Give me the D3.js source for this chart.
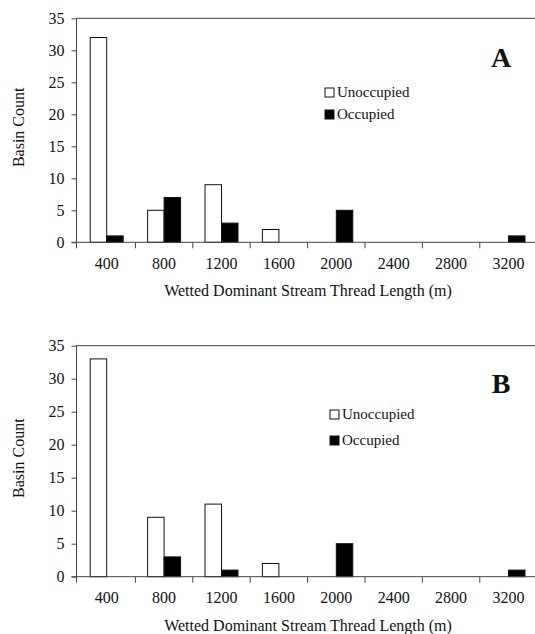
<!DOCTYPE html>
<html>
<head>
<meta charset="utf-8">
<script src="https://cdn.jsdelivr.net/npm/d3@7"></script>
<style>
  html, body { margin: 0; padding: 0; background: #fff; }
  svg { display: block; }
  text { font-family: "Liberation Serif", "Times New Roman", "DejaVu Serif", serif; fill: #111; }
</style>
</head>
<body>
<svg id="chart" width="535" height="634"></svg>
<script>
const categories = ["400", "800", "1200", "1600", "2000", "2400", "2800", "3200"];
const seriesNames = ["Unoccupied", "Occupied"];
const unoccupiedA = [32, 5, 9, 2, 0, 0, 0, 0];
const occupiedA   = [1, 7, 3, 0, 5, 0, 0, 1];
const unoccupiedB = [33, 9, 11, 2, 0, 0, 0, 0];
const occupiedB   = [0, 3, 1, 0, 5, 0, 0, 1];
const yTicks = [0, 5, 10, 15, 20, 25, 30, 35];
const xTitle = "Wetted Dominant Stream Thread Length (m)";
const yTitle = "Basin Count";

const svg = d3.select("#chart");
const FONT = "'Liberation Serif', 'Times New Roman', 'DejaVu Serif', serif";

const panels = [
  { label: "A", unocc: unoccupiedA, occ: occupiedA, top: 18.3, bottom: 242.3,
    legendX: 325, legendY: [88, 110], letterY: 67 },
  { label: "B", unocc: unoccupiedB, occ: occupiedB, top: 345.7, bottom: 576.7,
    legendX: 330, legendY: [410, 436], letterY: 393 }
];

const axisX = 76.5;
const x = d3.scaleBand().domain(categories).range([78, 537.2]).paddingInner(0).paddingOuter(0);
const xSub = d3.scaleBand().domain(seriesNames).range([0, x.bandwidth()]).paddingInner(0).paddingOuter(0.74);
const fills = { "Unoccupied": "#fff", "Occupied": "#000" };

panels.forEach(p => {
  const y = d3.scaleLinear().domain([0, 35]).range([p.bottom, p.top]);
  const g = svg.append("g");

  // top frame line
  g.append("line")
    .attr("x1", axisX).attr("x2", 535)
    .attr("y1", y(35)).attr("y2", y(35))
    .attr("stroke", "#444").attr("stroke-width", 1);

  // bars
  const rows = categories.map((c, i) => ({ cat: c, values: [
    { s: "Unoccupied", v: p.unocc[i] }, { s: "Occupied", v: p.occ[i] } ] }));
  g.selectAll("g.grp").data(rows).join("g")
    .attr("transform", d => `translate(${x(d.cat)},0)`)
    .selectAll("rect").data(d => d.values.filter(e => e.v > 0)).join("rect")
    .attr("x", d => xSub(d.s))
    .attr("width", xSub.bandwidth())
    .attr("y", d => y(d.v))
    .attr("height", d => y(0) - y(d.v))
    .attr("fill", d => fills[d.s])
    .attr("stroke", "#111").attr("stroke-width", 1);

  // y axis
  const yAxis = d3.axisLeft(y).tickValues(yTicks).tickSize(5).tickPadding(7).tickFormat(d3.format("d"));
  const ya = g.append("g").attr("transform", `translate(${axisX},0)`).call(yAxis);
  ya.attr("font-family", FONT);
  ya.select(".domain").remove();
  ya.selectAll(".tick line").attr("stroke", "#444");
  ya.selectAll(".tick text").attr("font-size", 16).attr("fill", "#111");
  g.append("line")
    .attr("x1", axisX).attr("x2", axisX)
    .attr("y1", y(35)).attr("y2", y(0) + 6)
    .attr("stroke", "#444");

  // x axis
  const xAxis = d3.axisBottom(x).tickSize(0).tickPadding(15);
  const xa = g.append("g").attr("transform", `translate(0,${y(0)})`).call(xAxis);
  xa.attr("font-family", FONT);
  xa.select(".domain").remove();
  xa.selectAll(".tick text").attr("font-size", 16).attr("fill", "#111");
  g.append("line")
    .attr("x1", axisX - 5).attr("x2", 535)
    .attr("y1", y(0)).attr("y2", y(0))
    .attr("stroke", "#444");
  g.selectAll("line.xtick").data(categories.slice(1)).join("line")
    .attr("class", "xtick")
    .attr("x1", d => x(d)).attr("x2", d => x(d))
    .attr("y1", y(0)).attr("y2", y(0) + 6)
    .attr("stroke", "#444");

  // axis titles
  g.append("text")
    .attr("x", 308).attr("y", y(0) + 54)
    .attr("text-anchor", "middle").attr("font-size", 16)
    .text(xTitle);
  g.append("text")
    .attr("transform", `translate(24,${(y(0) + y(35)) / 2 - 3}) rotate(-90)`)
    .attr("text-anchor", "middle").attr("font-size", 16)
    .text(yTitle);

  // panel letter
  g.append("text")
    .attr("x", 501).attr("y", p.letterY)
    .attr("text-anchor", "middle").attr("font-size", 28).attr("font-weight", "bold")
    .text(p.label);

  // legend
  seriesNames.forEach((s, i) => {
    g.append("rect")
      .attr("x", p.legendX).attr("y", p.legendY[i])
      .attr("width", 9).attr("height", 9)
      .attr("fill", fills[s]).attr("stroke", "#111").attr("stroke-width", 1);
    g.append("text")
      .attr("x", p.legendX + 12).attr("y", p.legendY[i] + 9)
      .attr("font-size", 15)
      .text(s);
  });
});
</script>
</body>
</html>
